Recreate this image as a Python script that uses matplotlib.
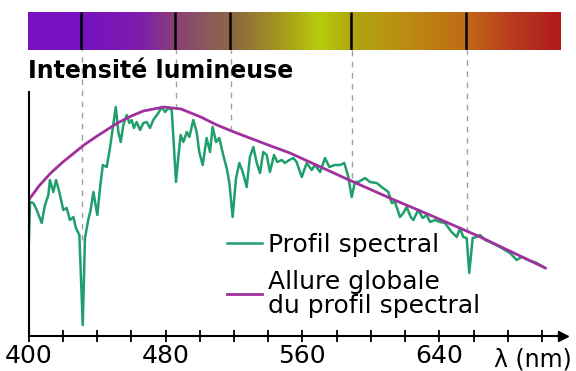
import matplotlib.pyplot as plt
import numpy as np
from matplotlib.colors import LinearSegmentedColormap

plt.rcParams['font.family'] = ['DejaVu Sans']

# %% Data (wavelength in nm, intensity in arbitrary units)

profil_nm = [400, 400.8, 402.7, 404.7, 407.6, 409.5, 411.5, 412.4, 414.4, 416, 417.9,
             420.2, 422.2, 424.1, 426.1, 427.6, 429.6, 431.6, 432.9, 434.8, 436.2,
             437.8, 440.1, 441.7, 443.3, 445.6, 447.5, 449.4, 450.9, 452.4, 453.8,
             455.3, 457.3, 458.8, 460.2, 461.5, 463.1, 465.1, 467, 469, 470.9,
             472.8, 475.8, 477.7, 479.7, 481.6, 483.6, 486.1, 487.4, 488.8, 490.4,
             492.4, 493.9, 496.2, 498.2, 499.7, 501.7, 504, 506, 507.5, 509.5,
             511.4, 513.7, 515.7, 517.3, 519.2, 521.2, 523.1, 525.1, 527.4, 529.3,
             531.3, 533.3, 535.2, 537.1, 539.1, 541, 543.4, 545.3, 547.9, 549.8,
             552.3, 554.7, 556.6, 559.6, 562.5, 565.4, 567.3, 570.3, 573.2, 575.7,
             579, 582, 584.5, 586.8, 588.8, 590.7, 592.7, 596.6, 599.5, 603.4,
             606.3, 610.2, 612.2, 614.1, 617, 619, 620.9, 623.3, 624.8, 627.7,
             630.3, 632.6, 634.6, 637.5, 640.4, 643.3, 647.2, 650.2, 652.1, 654,
             656, 657.5, 659.5, 661.8, 663.8, 666.7, 669.6, 675.4, 681.3, 685.2,
             688.2, 692, 696.9, 700.8]
profil_i = [88, 134, 133, 126, 113, 131, 141, 156, 144, 156, 144,
            126, 128, 116, 119, 108, 101, 11, 98, 116, 126,
            144, 121, 148, 171, 169, 188, 211, 229, 204, 194,
            211, 221, 213, 216, 208, 214, 206, 213, 214, 208,
            216, 223, 229, 224, 228, 226, 154, 178, 201, 194,
            204, 199, 216, 204, 184, 171, 198, 184, 209, 194,
            198, 181, 168, 153, 119, 158, 173, 164, 149, 179,
            189, 173, 163, 184, 181, 164, 181, 174, 176, 173,
            176, 178, 174, 159, 173, 166, 171, 164, 178, 169,
            171, 171, 173, 159, 139, 154, 154, 158, 154, 153,
            149, 144, 133, 134, 119, 123, 129, 119, 116, 126,
            118, 121, 114, 116, 114, 113, 104, 99, 108, 99,
            98, 63, 98, 99, 101, 96, 94, 89, 83, 76,
            79, 76, 73, 69]

allure_nm = [400, 406, 412.9, 420, 432.3, 440, 451.9, 460, 467, 479, 489,
             500.6, 510, 520, 540, 552.7, 586, 611, 634.5, 664, 702]
allure_i = [136, 150, 163, 174, 191, 200, 213, 220, 225, 229, 227,
            219, 211, 204, 191, 183, 157, 138, 121, 99, 68]

# dark lines of the spectrum and where their dashed guides stop
raies_nm = [431, 486, 518, 589, 656]
raies_stop = [96, 227, 205, 158, 104]

# colour band
bande_nm = [400, 430, 465, 487, 505, 520, 545, 570, 590, 620, 655, 680, 711]
bande_col = ['#7a10c2', '#7412c0', '#7e1cac', '#8a4274', '#8a5a5a', '#8c6840',
             '#a49222', '#b6cc0a', '#b0a610', '#bc8c12', '#c06c16', '#b8401e',
             '#b01a1c']

tick_nm = list(range(400, 701, 20))
tick_lab = ['400', '', '', '', '480', '', '', '', '560', '', '', '', '640', '', '', '']

# %% Figure

fig = plt.figure(figsize=(5.76, 3.71), dpi=100)
ax = fig.add_axes([28.7 / 576, 35 / 371, (563 - 28.7) / 576, 244 / 371])
ax.set_xlim(400, 712.3)
ax.set_ylim(0, 244)

ax.vlines(raies_nm, raies_stop, 286, colors='#a0a0a0', linestyles=(0, (4, 4)),
          lw=1, clip_on=False, zorder=0)

ax.plot(profil_nm, profil_i, color='#1f9f6c', lw=1.8, label='Profil spectral')
ax.plot(allure_nm, allure_i, color='#a0309c', lw=2,
        label='Allure globale\ndu profil spectral')

for s in ['top', 'right']:
    ax.spines[s].set_visible(False)
for s in ['left', 'bottom']:
    ax.spines[s].set_linewidth(1.5)
ax.plot(1, 0, '>k', ms=7, transform=ax.get_yaxis_transform(), clip_on=False)
ax.plot(0, 1, '^k', ms=7, transform=ax.get_xaxis_transform(), clip_on=False)

ax.set_xticks(tick_nm, tick_lab)
ax.tick_params(axis='x', direction='inout', length=8, width=1.3, labelsize=18, pad=2)
ax.set_yticks([])

leg = ax.legend(loc='upper left', bbox_to_anchor=(227 / 576, 1 - 233 / 371),
                bbox_transform=fig.transFigure, frameon=False, fontsize=18,
                handlelength=1.4, handletextpad=0.25, labelspacing=0.5,
                borderpad=0, borderaxespad=0)
for t in leg.get_texts():
    t.set_linespacing(1.0)

fig.text(28 / 576, 1 - 78 / 371, 'Intensité lumineuse', fontsize=17,
         fontweight='bold', va='baseline', ha='left')
fig.text(494 / 576, 1 - 367 / 371, 'λ (nm)', fontsize=17, va='baseline', ha='left')

# colour band on top
bax = fig.add_axes([27.6 / 576, 1 - 50 / 371, (560 - 27.6) / 576, 38 / 371])
pos = [(w - bande_nm[0]) / (bande_nm[-1] - bande_nm[0]) for w in bande_nm]
cmap = LinearSegmentedColormap.from_list('bande', list(zip(pos, bande_col)))
grad = np.linspace(0, 1, 512).reshape(1, -1)
bax.imshow(grad, cmap=cmap, aspect='auto', extent=[bande_nm[0], bande_nm[-1], 0, 1])
bax.vlines(raies_nm, 0, 1, colors='black', lw=1.8)
bax.set_xlim(bande_nm[0], bande_nm[-1])
bax.set_ylim(0, 1)
bax.axis('off')

fig.savefig('out.png', dpi=100)
